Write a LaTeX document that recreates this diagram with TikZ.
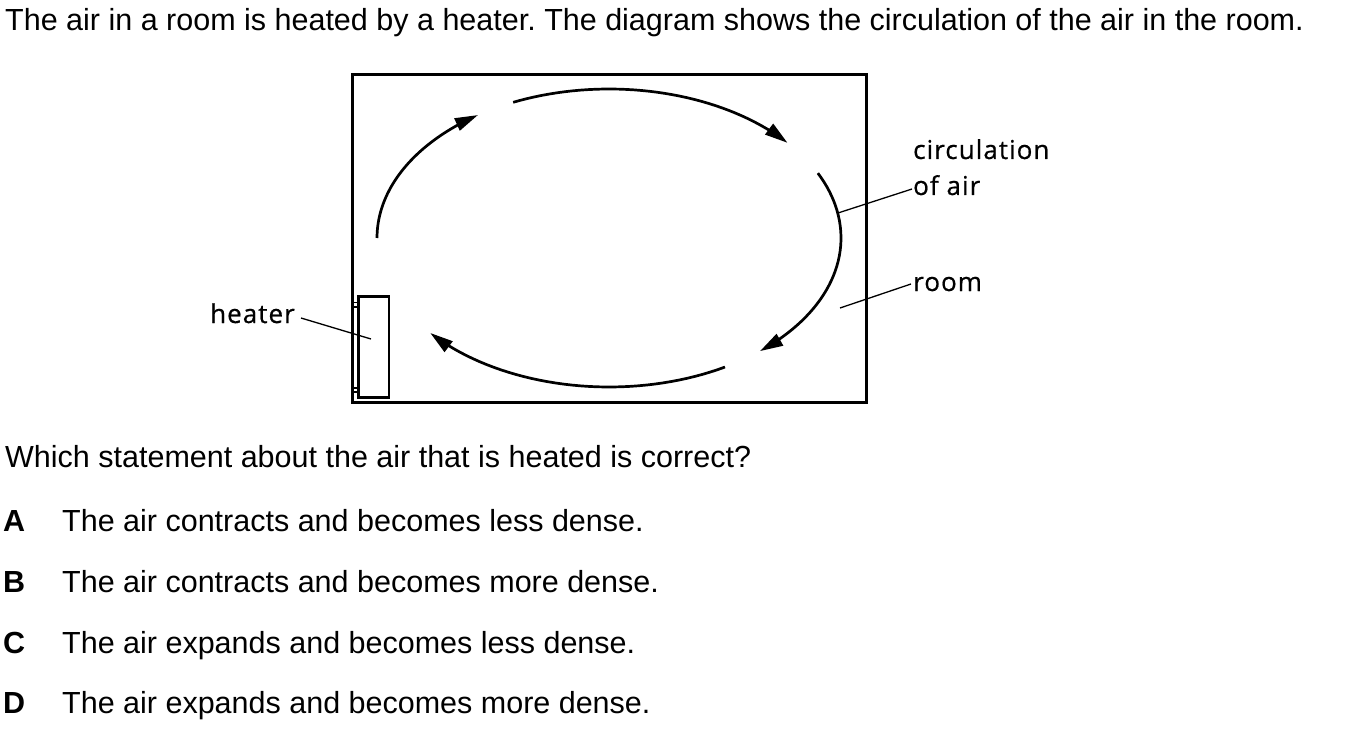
\documentclass[tikz,border=0pt]{standalone}
\usepackage{fontspec}
\setmainfont{Liberation Sans}
\newfontfamily\lblfont[LetterSpace=4,FakeBold=0.6]{Open Sans}
\usetikzlibrary{arrows.meta}
\frenchspacing
\begin{document}
\begin{tikzpicture}[x=1pt,y=-1pt,
  txt/.style={anchor=base west, inner sep=0pt, font=\fontsize{30.5}{36}\selectfont},
  lbl/.style={anchor=base west, inner sep=0pt, font=\lblfont\fontsize{26}{31}\selectfont},
  flow/.style={line width=2.7pt, -{Triangle[length=23pt,width=13pt]}},
  leader/.style={line width=1.3pt},
  wall/.style={line width=3pt},
  heat/.style={line width=2.7pt}]
\useasboundingbox (0,0) rectangle (1354,730);

% question text
\node[txt] (intro) at (5,31) {The air in a room is heated by a heater. The diagram shows the circulation of the air in the room.};
\node[txt] (q) at (5,467) {Which statement about the air that is heated is correct?};
\node[txt] (la) at (3,531) {\textbf{A}};
\node[txt] (ta) at (62,531) {The air contracts and becomes less dense.};
\node[txt] (lb) at (3,592) {\textbf{B}};
\node[txt] (tb) at (62,592) {The air contracts and becomes more dense.};
\node[txt] (lc) at (3,653) {\textbf{C}};
\node[txt] (tc) at (62,653) {The air expands and becomes less dense.};
\node[txt] (ld) at (3,713) {\textbf{D}};
\node[txt] (td) at (62,713) {The air expands and becomes more dense.};

% room
\draw[wall] (352,75) rectangle (866,402);

% heater
\draw[heat] (358.5,296.5) rectangle (389,397.5);
\draw[line width=1.6pt] (352,302.5) rectangle (358.5,307);
\draw[line width=1.6pt] (352,388) rectangle (358.5,392);

% circulation arrows (ellipse centre (609,238))
\draw[flow] plot[domain=180:235.6, samples=40] ({609+232*cos(\x)},{238+149*sin(\x)});
\draw[flow] plot[domain=245.6:320.3, samples=40] ({609+232*cos(\x)},{238+149*sin(\x)});
\draw[flow] plot[domain=334.2:409.4, samples=40] ({609+232*cos(\x)},{238+149*sin(\x)});
\draw[flow] plot[domain=420:500.4, samples=40] ({609+232*cos(\x)},{238+149*sin(\x)});

% labels
\node[lbl] (circ) at (913,159) {circulation};
\node[lbl] (ofair) at (913,195) {of air};
\node[lbl] (room) at (913,291) {room};
\node[lbl] (heater) at (210,323) {heater};

\coordinate (circA) at (912,189);
\coordinate (circB) at (838,213);
\coordinate (roomA) at (911,284);
\coordinate (roomB) at (840,308);
\coordinate (heatA) at (301,318);
\coordinate (heatB) at (371,339);
\draw[leader] (circA) -- (circB);
\draw[leader] (roomA) -- (roomB);
\draw[leader] (heatA) -- (heatB);
\end{tikzpicture}
\end{document}
